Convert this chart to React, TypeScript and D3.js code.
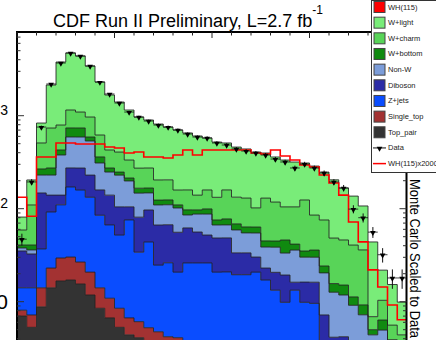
import * as d3 from 'd3';

// 40 bins of 5 units between 0 and 200
const binWidth = 5;
const massRange: [number, number] = [0, 200];

// stacked backgrounds (events per bin), bottom to top
const topPair = [7.0, 5.3, 8.8, 14.1, 16.7, 17.1, 15.5, 11.8, 8.5, 6.7, 5.3, 4.4, 4.1, 3.4, 3.0, 2.7, 2.4, 2.1, 1.9, 1.7, 1.6, 1.5, 1.4, 1.3, 1.2, 1.1, 1.0, 0.95, 0.9, 0.85, 0.8, 0.75, 0.7, 0.65, 0.6, 0.55, 0.5, 0.45, 0.4, 0.35];
const singleTop = [1.1, 1.9, 5.3, 8.9, 12.8, 13.1, 11.2, 9.0, 5.6, 4.2, 3.2, 2.3, 2.0, 1.85, 1.75, 1.5, 1.7, 1.6, 1.5, 1.4, 1.3, 1.2, 1.2, 1.1, 1.0, 1.0, 0.9, 0.9, 0.8, 0.8, 0.7, 0.7, 0.6, 0.6, 0.5, 0.5, 0.5, 0.4, 0.4, 0.4];
const zJets = [6.0, 6.9, 22.8, 69.2, 80.5, 141, 132, 112, 71, 56, 43.6, 69, 28, 38.6, 20, 22, 16.7, 22.4, 22.7, 23, 17.9, 18.2, 16.9, 17.1, 18.6, 15, 11.4, 8.0, 11.6, 8.2, 8.1, 1.25, 1.05, 0.85, 0.7, 0.58, 0.44, 0.37, 0.32, 0.25];
const diboson = [21.0, 18.5, 110.7, 47.8, 30, 103, 115, 97, 74, 73, 52.5, 29, 47, 53, 42, 41, 35, 36, 30, 26, 27.6, 27.6, 14, 14, 9.4, 5.9, 7.4, 9.5, 2.9, 6.4, 6.6, 4.5, 1.8, 2.1, 1.55, 1.4, 1.26, 1.43, 1.28, 1.1];
const nonW = [2.7, 3.4, 82.4, 90, 238, 316, 316, 305, 151, 108, 125, 94, 66, 51, 43, 43, 46, 23.5, 31.5, 35.5, 18.4, 18.4, 25.6, 21.4, 24.6, 15.7, 17.9, 14, 19.7, 13.9, 13.9, 13.2, 8.5, 7.6, 5.8, 4.2, 1.7, 2.3, 1.0, 0.9];
const wBottom = [2.9, 4.7, 37.5, 44, 50, 148, 148, 55, 50, 26, 18, 15, 19, 19, 14, 14, 8, 11.5, 9.4, 11.8, 8.8, 10.7, 9.5, 8.7, 8.7, 6.3, 6.3, 12.7, 5.7, 4.9, 5.8, 3.8, 3.0, 3.3, 2.1, 2.0, 0.6, 1.4, 0.5, 0.4];
const wCharm = [18.3, 69, 241.5, 463, 366, 413, 357, 378, 260, 154, 159, 120, 107, 107, 80, 80, 49, 62, 43, 59.6, 57, 81.5, 64.5, 66.5, 38.5, 85, 73, 58.5, 63, 89, 49.5, 51.4, 32.7, 31, 29.4, 26.8, 1.9, 4.0, 1.7, 1.0];
const wLight = [22.3, 94, 325, 1401, 2983, 3574, 3291, 2455, 1682, 1242, 996, 817, 694, 625, 610, 551, 543, 493, 465, 417, 388, 350, 327, 309, 305, 267, 242, 229, 213, 186, 202, 172, 156, 121, 96, 71, 37, 11.5, 9.7, 5.5];

const dataCounts = [47, 194, 755, 2192, 3686, 4725, 4386, 3423, 2302, 1712, 1370, 1095, 968, 877, 794, 755, 702, 636, 590, 576, 509, 484, 439, 417, 397, 378, 342, 318, 274, 302, 274, 242, 194, 167, 99, 80, 56, 32, 18, 18];
const whTimes2000 = [133, 83, 360, 360, 509, 509, 496, 496, 496, 460, 449, 397, 407, 360, 360, 351, 378, 428, 378, 428, 428, 428, 428, 428, 397, 388, 428, 369, 334, 295, 281, 230, 189, 140, 72, 44, 22, 14.4, 9.2, 6.4];

const stackKeys = ['Top_pair', 'Single_top', 'Z+jets', 'Diboson', 'Non-W', 'W+bottom', 'W+charm', 'W+light'];
const stackSeries = [topPair, singleTop, zJets, diboson, nonW, wBottom, wCharm, wLight];
const colors: Record<string, string> = {
  'WH(115)': '#ff0000',
  'W+light': '#79ec79',
  'W+charm': '#58d458',
  'W+bottom': '#108a10',
  'Non-W': '#7c9dd9',
  'Diboson': '#2b2ba6',
  'Z+jets': '#0a4dff',
  'Single_top': '#a33232',
  'Top_pair': '#333333',
};
const legendLabels = ['WH(115)', 'W+light', 'W+charm', 'W+bottom', 'Non-W', 'Diboson', 'Z+jets', 'Single_top', 'Top_pair', 'Data', 'WH(115)x2000'];

const font = '"Liberation Sans", Arial, Helvetica, sans-serif';

export default function App() {
  const width = 436;
  const height = 340;
  const frame = { left: 17, right: 406.5, top: 32 };

  const x = d3.scaleLinear().domain(massRange).range([17, 407]);
  const y = d3.scaleLog().domain([1, 10000]).range([394.7, 22.7]).clamp(true);
  const yv = (v: number) => y(Math.max(v, 0.5));

  const nBins = dataCounts.length;
  const rows = d3.range(nBins).map(i => {
    const r: Record<string, number> = {};
    stackKeys.forEach((k, j) => { r[k] = stackSeries[j][i]; });
    return r;
  });
  const stacked = d3.stack<Record<string, number>>().keys(stackKeys)(rows);

  type P = { x: number; lo: number; hi: number };
  const toSteps = (lo: (i: number) => number, hi: (i: number) => number): P[] =>
    d3.range(nBins + 1).map(i => {
      const k = Math.min(i, nBins - 1);
      return { x: x(i * binWidth), lo: lo(k), hi: hi(k) };
    });

  const area = d3.area<P>().curve(d3.curveStepAfter).x(p => p.x).y0(p => yv(p.lo)).y1(p => yv(p.hi));
  const topLine = d3.line<P>().curve(d3.curveStepAfter).x(p => p.x).y(p => yv(p.hi));

  const whSteps = toSteps(() => 0, i => whTimes2000[i]);

  // axis ticks
  const xTicks = d3.range(massRange[0], massRange[1] + 1, 10);
  const yTicks: { v: number; major: boolean }[] = [];
  for (let e = 0; e < 4; e++) {
    for (let k = 1; k <= 9; k++) {
      const v = k * Math.pow(10, e);
      const py = y(v);
      if (py > frame.top + 2 && py < height + 2) yTicks.push({ v, major: k === 1 });
    }
  }
  const yLabels = [10, 100, 1000];

  const tri = d3.symbol().type(d3.symbolTriangle).size(14)();

  const legendX = 371.5;
  const rowY = (i: number) => 7 + i * 15.66;

  return (
    <svg width={width} height={height} style={{ position: 'absolute', left: 0, top: 0, background: '#fff' }}>
      <defs>
        <clipPath id="plot">
          <rect x={frame.left} y={frame.top} width={frame.right - frame.left} height={height} />
        </clipPath>
      </defs>
      <rect width={width} height={height} fill="#fff" />

      <g clipPath="url(#plot)">
        {stacked.map((s, j) => {
          const pts = toSteps(i => s[i][0], i => s[i][1]);
          return <path key={stackKeys[j]} d={area(pts) || ''} fill={colors[stackKeys[j]]} />;
        })}
        {stacked.map((s, j) => {
          const pts = toSteps(i => s[i][0], i => s[i][1]);
          return <path key={'l' + j} d={topLine(pts) || ''} fill="none" stroke="#222" strokeWidth={1} strokeOpacity={0.85} />;
        })}

        <path d={topLine(whSteps) || ''} fill="none" stroke="#ff0000" strokeWidth={1.6} />

        {dataCounts.map((v, i) => {
          const x0 = x(i * binWidth);
          const x1 = x((i + 1) * binWidth);
          const cx = (x0 + x1) / 2;
          const err = Math.sqrt(v);
          return (
            <g key={'d' + i} stroke="#111" strokeWidth={1}>
              <line x1={x0} x2={x1} y1={y(v)} y2={y(v)} strokeOpacity={0.8} />
              <line x1={cx} x2={cx} y1={y(v + err)} y2={y(v - err)} />
              <path d={tri || ''} transform={`translate(${cx},${y(v) + 0.5}) rotate(180)`} fill="#000" stroke="none" />
            </g>
          );
        })}
      </g>

      {/* frame */}
      <line x1={frame.left - 1} x2={407} y1={frame.top} y2={frame.top} stroke="#000" strokeWidth={2} />
      <line x1={frame.left} x2={frame.left} y1={frame.top - 1} y2={height} stroke="#000" strokeWidth={2} />
      <line x1={frame.right} x2={frame.right} y1={frame.top - 1} y2={height} stroke="#000" strokeWidth={2} />

      {xTicks.map(t => {
        const major = t % 50 === 0;
        return <line key={'xt' + t} x1={x(t)} x2={x(t)} y1={frame.top} y2={frame.top + (major ? 6 : 3.5)} stroke="#222" strokeWidth={1} />;
      })}
      {yTicks.map(t => (
        <g key={'yt' + t.v} stroke="#333" strokeWidth={1}>
          <line x1={frame.left} x2={frame.left + (t.major ? 7 : 3.5)} y1={y(t.v)} y2={y(t.v)} />
          <line x1={frame.right} x2={frame.right - (t.major ? 7 : 3.5)} y1={y(t.v)} y2={y(t.v)} />
        </g>
      ))}
      {/* the "10" bases sit left of the page edge, as in the cropped original */}
      {yLabels.map(v => {
        const exp = Math.round(Math.log10(v));
        return (
          <text key={'yl' + v} x={8} y={y(v) + 7.5} textAnchor="end" fontFamily={font} fontSize={21} fill="#000">
            10
            {exp > 1 ? <tspan fontSize={14} dy={-8}>{exp}</tspan> : null}
          </text>
        );
      })}

      <text x={53} y={27} fontFamily={font} fontSize={18} fill="#000">
        CDF Run II Preliminary, L=2.7 fb<tspan fontSize={12} dy={-13}>-1</tspan>
      </text>

      <text transform="translate(410,179) rotate(90)" fontFamily={font} fontSize={15} fill="#000" textLength={159} lengthAdjust="spacingAndGlyphs">
        Monte Carlo Scaled to Data
      </text>

      {/* legend */}
      <rect x={legendX} y={0.5} width={80} height={172} fill="#fff" stroke="#333" strokeWidth={1} />
      {legendLabels.map((lab, i) => {
        const cy = rowY(i);
        let sym;
        if (lab === 'Data') {
          sym = (
            <g>
              <line x1={373} x2={386} y1={cy} y2={cy} stroke="#111" strokeWidth={1} />
              <path d={tri || ''} transform={`translate(379.5,${cy + 0.5}) rotate(180)`} fill="#000" />
            </g>
          );
        } else if (lab === 'WH(115)x2000') {
          sym = <line x1={373} x2={386} y1={cy} y2={cy} stroke="#ff0000" strokeWidth={1.5} />;
        } else {
          sym = <rect x={374} y={cy - 5.5} width={11} height={11} fill={colors[lab]} stroke="#444" strokeWidth={1} />;
        }
        return (
          <g key={'lg' + i}>
            {sym}
            <text x={388} y={cy} dominantBaseline="central" fontFamily={font} fontSize={7.5} fill="#222">{lab}</text>
          </g>
        );
      })}
    </svg>
  );
}
